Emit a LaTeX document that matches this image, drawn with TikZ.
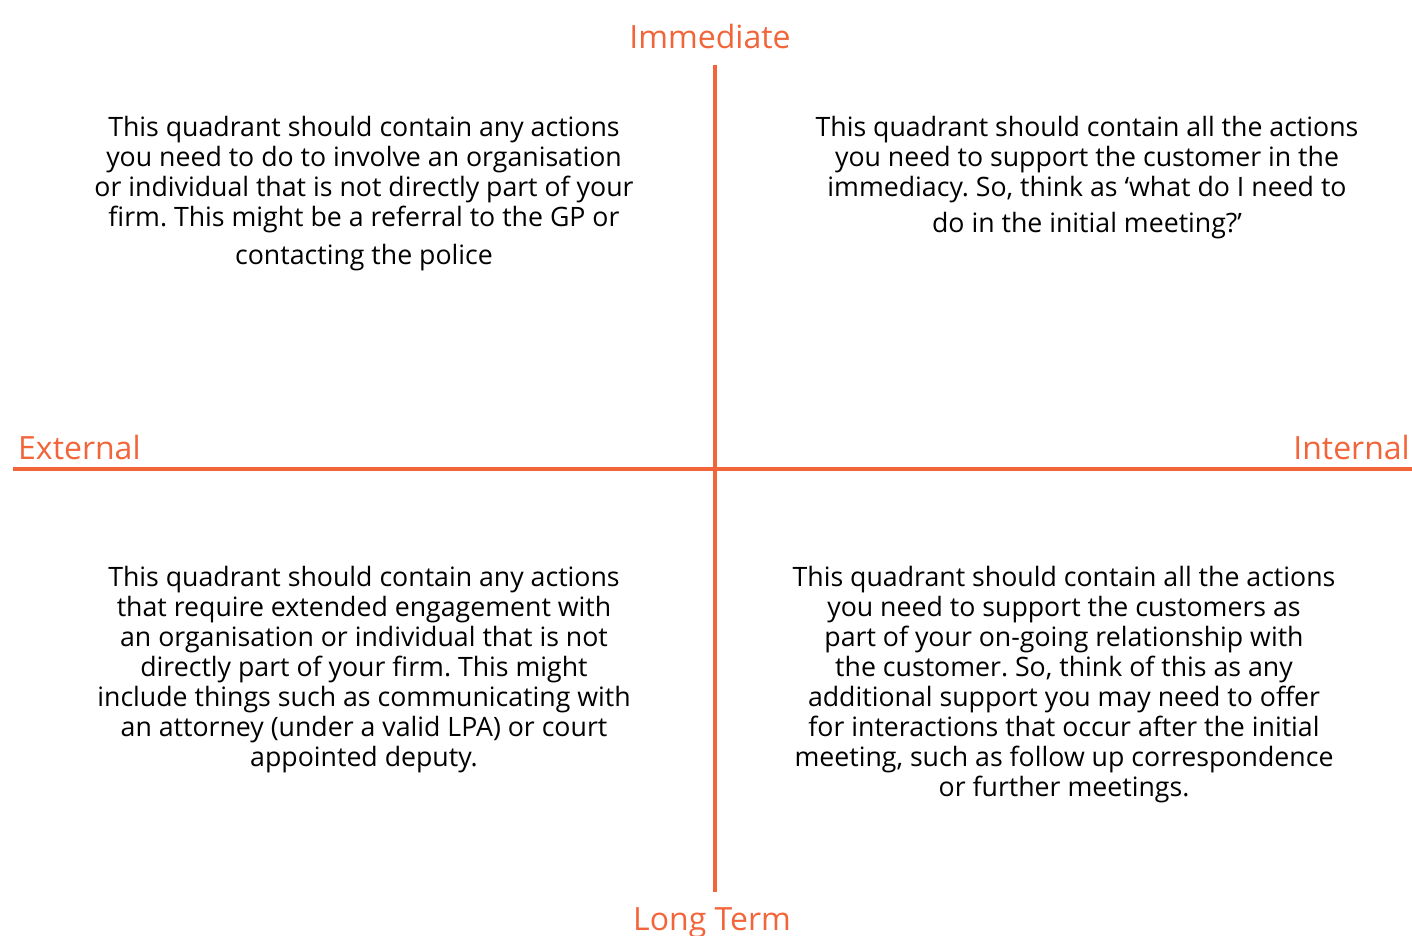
\documentclass[tikz,border=0pt]{standalone}
\usepackage{fontspec}
\setmainfont{Open Sans}
\frenchspacing
\definecolor{accent}{HTML}{F2653A}
\begin{document}
\begin{tikzpicture}[x=1pt,y=-1pt,
  axis/.style={draw=accent,line width=3.5pt},
  axislabel/.style={text=accent,font=\fontsize{32}{36}\selectfont,inner sep=0pt},
  quadtext/.style={align=center,font=\fontsize{26.7}{30}\selectfont,inner sep=0pt,anchor=north}]
\useasboundingbox (0,0) rectangle (1412,935);
% axes
\coordinate (top) at (715,65);
\coordinate (bottom) at (715,892);
\coordinate (left) at (13,469);
\coordinate (right) at (1412,469);
\draw[axis] (top) -- (bottom);
\draw[axis] (left) -- (right);
% axis labels
\node[axislabel,anchor=base] (immediate) at (710,48) {Immediate};
\node[axislabel,anchor=base] (longterm) at (712,930) {Long Term};
\node[axislabel,anchor=base west] (external) at (18,459) {External};
\node[axislabel,anchor=base east] (internal) at (1410,459) {Internal};
% quadrant descriptions
\node[quadtext] (tl) at (364,116) {This quadrant should contain any actions\\
you need to do to involve an organisation\\
or individual that is not directly part of your\\
firm. This might be a referral to the GP or\\[8pt]
contacting the police};
\node[quadtext] (tr) at (1087,116) {This quadrant should contain all the actions\\
you need to support the customer in the\\
immediacy. So, think as ‘what do I need to\\[6pt]
do in the initial meeting?’};
\node[quadtext] (bl) at (364,566) {This quadrant should contain any actions\\
that require extended engagement with\\
an organisation or individual that is not\\
directly part of your firm. This might\\
include things such as communicating with\\
an attorney (under a valid LPA) or court\\
appointed deputy.};
\node[quadtext] (br) at (1064,566) {This quadrant should contain all the actions\\
you need to support the customers as\\
part of your on-going relationship with\\
the customer. So, think of this as any\\
additional support you may need to offer\\
for interactions that occur after the initial\\
meeting, such as follow up correspondence\\
or further meetings.};
\end{tikzpicture}
\end{document}
